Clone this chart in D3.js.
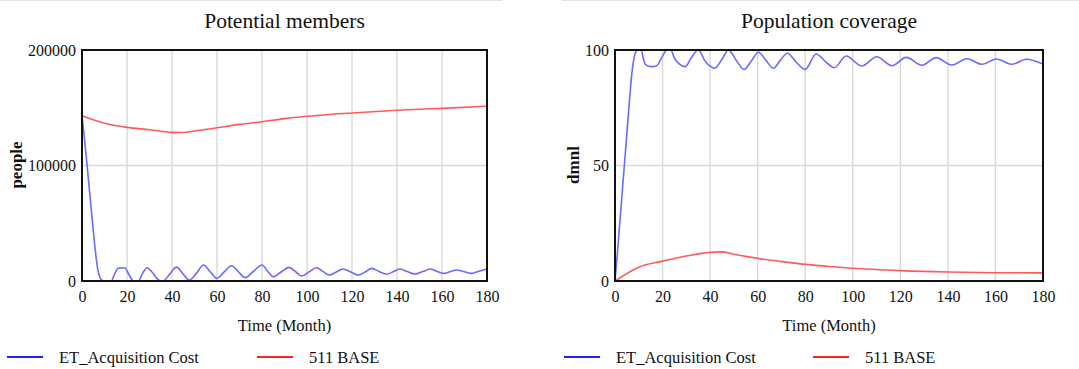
<!DOCTYPE html>
<html>
<head>
<meta charset="utf-8">
<script src="https://cdn.jsdelivr.net/npm/d3@7"></script>
<style>
  html, body { margin: 0; padding: 0; background: #fff; }
  svg { display: block; }
  text { font-family: "Liberation Serif", "Times New Roman", serif; fill: #111; }
</style>
</head>
<body>
<svg id="chart" width="1079" height="369"></svg>
<script>
// ---------- data ----------
const xTicks = [0, 20, 40, 60, 80, 100, 120, 140, 160, 180];
const leftYTicks = [0, 100000, 200000];
const rightYTicks = [0, 50, 100];
const seriesNames = ["ET_Acquisition Cost", "511 BASE"];

// Potential members (people)
const pmBlueT = [0, 1, 2, 3, 4, 5, 6, 7, 8, 9, 10, 13, 14.5, 16, 19, 21, 23, 25, 27, 29, 31, 34, 36, 39, 42, 45, 47.7, 51, 54, 57, 60, 63, 66.5, 69.5, 72.5, 76, 80, 82.5, 85, 88.5, 92, 95, 97.6, 101, 104.3, 107, 110, 113, 116, 119.5, 122.8, 126, 128.7, 132, 135.4, 138.5, 141.3, 144.5, 148, 151.5, 154.7, 157.5, 160.6, 163.5, 166.5, 170, 173.2, 176.5, 180];
const pmBlueV = [143000, 125000, 105000, 85000, 64000, 44000, 25000, 10000, 3000, 500, 0, 0, 6000, 11000, 11500, 5000, 0, 0, 7000, 11500, 8000, 1000, 0, 6000, 12000, 6000, 900, 7000, 13800, 8000, 2300, 7500, 13200, 8000, 2900, 8000, 13800, 8500, 3700, 7800, 11800, 8000, 4300, 8000, 11500, 8300, 5200, 7800, 10400, 7800, 5200, 8000, 10900, 8300, 5800, 8200, 10400, 8200, 6100, 8200, 10400, 8500, 6600, 8000, 9500, 8000, 6600, 8500, 10400];
const pmRedT = [0, 10, 20, 30, 40, 45, 50, 60, 70, 80, 90, 100, 120, 140, 160, 180];
const pmRedV = [143000, 136500, 133000, 131000, 128700, 128600, 129900, 132700, 135600, 137900, 140600, 142600, 145500, 147800, 149500, 151300];

// Population coverage (dmnl)
const pcBlueT = [0, 1, 2, 3, 4, 5, 6, 7, 8, 9, 10, 11, 12, 13, 15.5, 17.5, 19.5, 22, 23.5, 25, 27, 29.5, 32, 35, 38, 40, 42, 45, 47.7, 51, 54.3, 57.5, 60.3, 63.5, 66.6, 69.5, 72.5, 76, 80, 84.6, 88.5, 92.2, 97.2, 103.8, 110.1, 116.4, 122.5, 129.1, 135.1, 141.7, 148, 154.3, 160.4, 167, 173, 180];
const pcBlueV = [0, 12, 25, 38, 51, 64, 77, 89, 96.5, 99.5, 100, 100, 96, 93.5, 92.8, 93.2, 96.5, 100, 100, 96.5, 94, 92.8, 96.5, 100, 95, 93, 92.1, 96, 100, 95.5, 91.6, 95.5, 99, 95.5, 92.1, 95.5, 98.6, 95, 91.6, 98.3, 95, 92.3, 97.4, 93.1, 97.1, 93.2, 96.8, 93.4, 96.7, 93.5, 96.2, 93.8, 96.1, 93.8, 96, 93.9];
const pcRedT = [0, 10, 20, 30, 40, 45, 50, 60, 70, 80, 90, 100, 120, 140, 160, 180];
const pcRedV = [0, 6, 8.6, 10.8, 12.4, 12.6, 11.6, 9.8, 8.4, 7.2, 6.3, 5.5, 4.5, 3.9, 3.6, 3.5];

// ---------- drawing ----------
const svg = d3.select("#chart");
const blueLine = "#6a6aff", redLine = "#ff5a5a";
const blueLegend = "#2020ff", redLegend = "#ff2020";

// faint outer panel borders
svg.append("line").attr("x1", 0).attr("x2", 502).attr("y1", 0.5).attr("y2", 0.5).attr("stroke", "#e4e4e4");
svg.append("line").attr("x1", 562).attr("x2", 1079).attr("y1", 0.5).attr("y2", 0.5).attr("stroke", "#e4e4e4");

function panel(cfg) {
  const x = d3.scaleLinear().domain([0, 180]).range([cfg.left, cfg.right]);
  const y = d3.scaleLinear().domain([0, cfg.ymax]).range([281, 50]);
  const g = svg.append("g");

  // grid
  g.append("g").selectAll("line").data(xTicks.slice(1, -1)).join("line")
    .attr("x1", d => x(d)).attr("x2", d => x(d)).attr("y1", 50).attr("y2", 281)
    .attr("stroke", "#d9d9d9").attr("stroke-width", 1.4);
  g.append("g").selectAll("line").data(cfg.yTicks.slice(1, -1)).join("line")
    .attr("x1", cfg.left).attr("x2", cfg.right).attr("y1", d => y(d)).attr("y2", d => y(d))
    .attr("stroke", "#d9d9d9").attr("stroke-width", 1.4);

  // lines
  const mk = (T, V) => T.map((t, i) => [t, V[i]]);
  const line = d3.line().x(d => x(d[0])).y(d => y(d[1])).curve(d3.curveMonotoneX);
  g.append("path").datum(mk(cfg.redT, cfg.redV)).attr("d", line)
    .attr("fill", "none").attr("stroke", redLine).attr("stroke-width", 1.6);
  g.append("path").datum(mk(cfg.blueT, cfg.blueV)).attr("d", line)
    .attr("fill", "none").attr("stroke", blueLine).attr("stroke-width", 1.6);

  // frame
  g.append("rect").attr("x", cfg.left).attr("y", 50)
    .attr("width", cfg.right - cfg.left).attr("height", 231)
    .attr("fill", "none").attr("stroke", "#111").attr("stroke-width", 2);

  // axes (labels only)
  const xAxis = d3.axisBottom(x).tickValues(xTicks).tickSize(0).tickPadding(0).tickFormat(d3.format("d"));
  const xa = g.append("g").attr("transform", "translate(0,302)").call(xAxis);
  xa.select(".domain").remove();
  xa.selectAll("text").attr("dy", 0).attr("y", 0).style("font-size", "16px")
    .style("font-family", '"Liberation Serif", serif').attr("fill", "#111");

  const yAxis = d3.axisLeft(y).tickValues(cfg.yTicks).tickSize(0).tickPadding(0).tickFormat(d3.format("d"));
  const ya = g.append("g").attr("transform", `translate(${cfg.left - 6},0)`).call(yAxis);
  ya.select(".domain").remove();
  ya.selectAll("text").attr("dy", "0.32em").attr("x", 0).style("font-size", "16px")
    .style("font-family", '"Liberation Serif", serif').attr("fill", "#111");

  // titles
  g.append("text").attr("x", (cfg.left + cfg.right) / 2).attr("y", 28)
    .attr("text-anchor", "middle").style("font-size", "21.5px").text(cfg.title);
  g.append("text").attr("x", (cfg.left + cfg.right) / 2).attr("y", 331)
    .attr("text-anchor", "middle").style("font-size", "16.5px").text("Time (Month)");
  g.append("text")
    .attr("transform", `translate(${cfg.yLabelX},${165}) rotate(-90)`)
    .attr("text-anchor", "middle").style("font-size", "17px").style("font-weight", "bold")
    .text(cfg.yLabel);

  // legend
  const lg = g.append("g");
  lg.append("line").attr("x1", cfg.legX[0]).attr("x2", cfg.legX[0] + 36).attr("y1", 357).attr("y2", 357)
    .attr("stroke", blueLegend).attr("stroke-width", 2);
  lg.append("text").attr("x", cfg.legX[0] + 52).attr("y", 363).style("font-size", "16.5px").text(seriesNames[0]);
  lg.append("line").attr("x1", cfg.legX[1]).attr("x2", cfg.legX[1] + 36).attr("y1", 357).attr("y2", 357)
    .attr("stroke", redLegend).attr("stroke-width", 2);
  lg.append("text").attr("x", cfg.legX[1] + 52).attr("y", 363).style("font-size", "16.5px").text(seriesNames[1]);
}

panel({
  left: 82, right: 487, ymax: 200000, yTicks: leftYTicks,
  title: "Potential members", yLabel: "people", yLabelX: 22,
  blueT: pmBlueT, blueV: pmBlueV, redT: pmRedT, redV: pmRedV,
  legX: [7, 257]
});
panel({
  left: 615, right: 1043, ymax: 100, yTicks: rightYTicks,
  title: "Population coverage", yLabel: "dmnl", yLabelX: 579,
  blueT: pcBlueT, blueV: pcBlueV, redT: pcRedT, redV: pcRedV,
  legX: [564, 813]
});
</script>
</body>
</html>
